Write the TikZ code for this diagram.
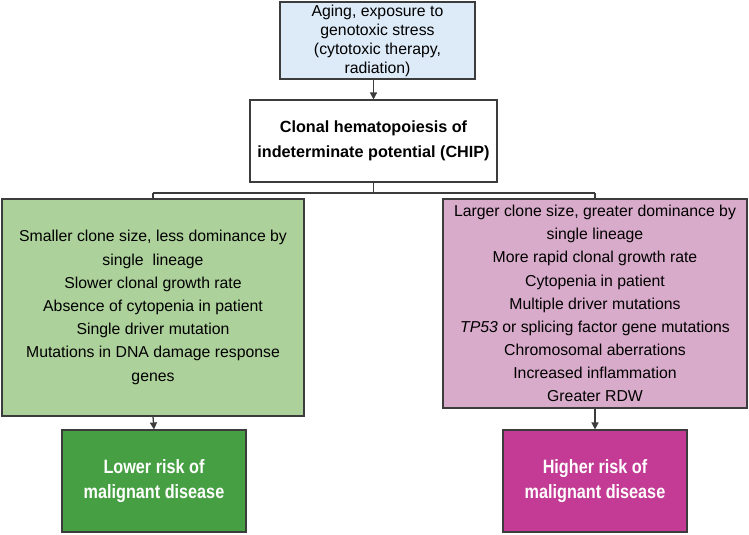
\documentclass[tikz,border=0pt]{standalone}
\usepackage{fontspec}
\setmainfont{Liberation Sans}
\newfontfamily\condfont[FakeStretch=0.84]{Liberation Sans}
\usetikzlibrary{arrows.meta}
\definecolor{bluebg}{HTML}{DDEAF7}
\definecolor{greenbg}{HTML}{ADD19B}
\definecolor{pinkbg}{HTML}{D9ABCA}
\definecolor{darkgreen}{HTML}{46A043}
\definecolor{magentabox}{HTML}{C33B94}
\definecolor{edge}{HTML}{3C3C3C}
\tikzset{
  box/.style={draw=edge, line width=1.1pt, rectangle, align=center, inner sep=0pt},
  conn/.style={draw=edge, line width=1.3pt},
  arr/.style={conn, -{Triangle[length=7pt,width=7pt]}},
}
\begin{document}
\begin{tikzpicture}[x=1pt,y=-1pt]
\useasboundingbox (0,0) rectangle (749,535);
\node[box, fill=bluebg, minimum width=195pt, minimum height=77pt, font=\fontsize{15.8}{19}\selectfont] (top) at (377.5,40.5)
  {Aging, exposure to\\genotoxic stress\\(cytotoxic therapy,\\radiation)};
\node[box, fill=white, minimum width=247pt, minimum height=82pt, font=\fontsize{16.2}{25}\selectfont\bfseries] (chip) at (373.5,141)
  {Clonal hematopoiesis of\\indeterminate potential (CHIP)};
\node[box, fill=greenbg, minimum width=302pt, minimum height=217pt, font=\fontsize{15.8}{23.2}\selectfont] (low) at (153,307.5)
  {Smaller clone size, less dominance by\\single\ \ lineage\\Slower clonal growth rate\\Absence of cytopenia in patient\\Single driver mutation\\Mutations in DNA damage response\\genes};
\node[box, fill=pinkbg, minimum width=304pt, minimum height=209pt, font=\fontsize{15.8}{23.1}\selectfont] (high) at (595,303.5)
  {Larger clone size, greater dominance by\\single lineage\\More rapid clonal growth rate\\Cytopenia in patient\\Multiple driver mutations\\\textit{TP53} or splicing factor gene mutations\\Chromosomal aberrations\\Increased inflammation\\Greater RDW};
\node[box, fill=darkgreen, text=white, minimum width=184pt, minimum height=102pt, font=\fontsize{19.3}{25}\selectfont\condfont\bfseries] (lowrisk) at (154,481)
  {Lower risk of\\malignant disease};
\node[box, fill=magentabox, text=white, minimum width=184pt, minimum height=102pt, font=\fontsize{19.3}{25}\selectfont\condfont\bfseries] (highrisk) at (595,481)
  {Higher risk of\\malignant disease};
\coordinate (split) at (373.5,193);
\draw[arr] (chip.north |- top.south) -- (chip.north);
\draw[conn] (chip.south) -- (split);
\draw[conn] (low.north |- split) -- (high.north |- split);
\draw[conn] (low.north |- split) -- (low.north);
\draw[conn] (high.north |- split) -- (high.north);
\draw[arr] (low.south) -- (lowrisk.north);
\draw[arr] (high.south) -- (highrisk.north);
\end{tikzpicture}
\end{document}
